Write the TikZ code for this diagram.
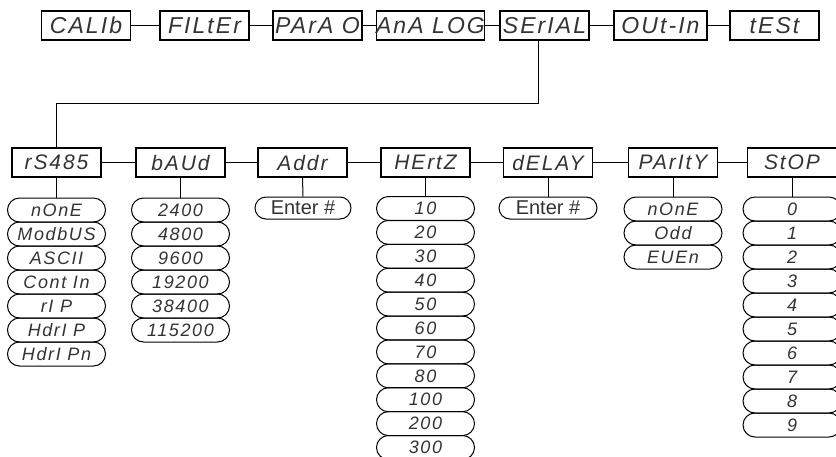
\documentclass[tikz,border=0pt]{standalone}
\usepackage{fontspec}
\setmainfont{Liberation Sans}
\newfontfamily\segfont{Liberation Sans}[LetterSpace=9]
\usetikzlibrary{shapes.misc}
\begin{document}
\begin{tikzpicture}[x=1pt,y=-1pt,
  every node/.style={text=black!80},
  topbox/.style={draw=black, line width=1.2pt, rectangle, minimum width=89pt, minimum height=29pt, inner sep=0pt, font=\segfont\itshape\fontsize{23}{23}\selectfont},
  subbox/.style={draw=black, line width=1.2pt, rectangle, minimum width=89pt, minimum height=29pt, inner sep=0pt, font=\segfont\itshape\fontsize{21}{21}\selectfont},
  opt/.style={draw=black, line width=1pt, rounded rectangle, minimum width=98pt, minimum height=24pt, inner sep=0pt, font=\segfont\itshape\fontsize{18}{18}\selectfont},
  entry/.style={opt, font=\fontsize{20}{20}\selectfont},
  link/.style={draw=black, line width=1pt}]
\useasboundingbox (0,0) rectangle (836,456);
% top row
\node[topbox] (calib)  at (86,25.5)  {CALIb};
\node[topbox] (filter) at (204.5,25.5) {FILtEr};
\node[topbox] (parao)  at (317.5,25.5) {PArA O};
\node[topbox] (analog) at (430.5,25.5) {AnA LOG};
\node[topbox] (serial) at (544.5,25.5) {SErIAL};
\node[topbox, minimum width=93pt] (outin) at (660.5,25.5) {OUt-In};
\node[topbox] (test)   at (774.5,25.5) {tESt};
\draw[link] (calib) -- (filter);
\draw[link] (filter) -- (parao);
\draw[link] (parao) -- (analog);
\draw[link] (analog) -- (serial);
\draw[link] (serial) -- (outin);
\draw[link] (outin) -- (test);
% second row
\node[subbox] (rs)     at (56.5,162.5)  {rS485};
\node[subbox] (baud)   at (180.5,162.5) {bAUd};
\node[subbox] (addr)   at (302.5,162.5) {Addr};
\node[subbox] (hertz)  at (425.5,162.5) {HErtZ};
\node[subbox] (delay)  at (548,162.5)   {dELAY};
\node[subbox] (parity) at (673,162.5)   {PArItY};
\node[subbox] (stop)   at (792,162.5)   {StOP};
\draw[link] (rs) -- (baud);
\draw[link] (baud) -- (addr);
\draw[link] (addr) -- (hertz);
\draw[link] (hertz) -- (delay);
\draw[link] (delay) -- (parity);
\draw[link] (parity) -- (stop);
% serial to rs485
\coordinate (tap) at (538,40);
\coordinate (bend) at (538,103);
\draw[link] (tap) -- (bend) -| (rs.north);
% options
\foreach \t [count=\i] in {nOnE,ModbUS,ASCII,Cont In,rI P,HdrI P,HdrI Pn}
  \node[opt] (rs\i) at (56.5,{210+24*(\i-1)}) {\t};
\foreach \t [count=\i] in {2400,4800,9600,19200,38400,115200}
  \node[opt] (baud\i) at (180.5,{210+24*(\i-1)}) {\t};
\node[entry, minimum width=96pt, minimum height=22pt] (addr1) at (303,208) {Enter \#};
\foreach \t [count=\i] in {10,20,30,40,50,60,70,80,100,200,300}
  \node[opt] (hertz\i) at (425.5,{208.5+23.9*(\i-1)}) {\t};
\node[entry, minimum width=98pt, minimum height=22pt] (delay1) at (548,208) {Enter \#};
\foreach \t [count=\i] in {nOnE,Odd,EUEn}
  \node[opt] (parity\i) at (673,{209+24*(\i-1)}) {\t};
\foreach \t [count=\i] in {0,1,2,3,4,5,6,7,8,9}
  \node[opt] (stop\i) at (792,{209+24*(\i-1)}) {\t};
\draw[link] (rs.south) -- (rs1.north);
\draw[link] (baud.south) -- (baud1.north);
\draw[link] (addr.south) -- (addr1.north);
\draw[link] (hertz.south) -- (hertz1.north);
\draw[link] (delay.south) -- (delay1.north);
\draw[link] (parity.south) -- (parity1.north);
\draw[link] (stop.south) -- (stop1.north);
\end{tikzpicture}
\end{document}
